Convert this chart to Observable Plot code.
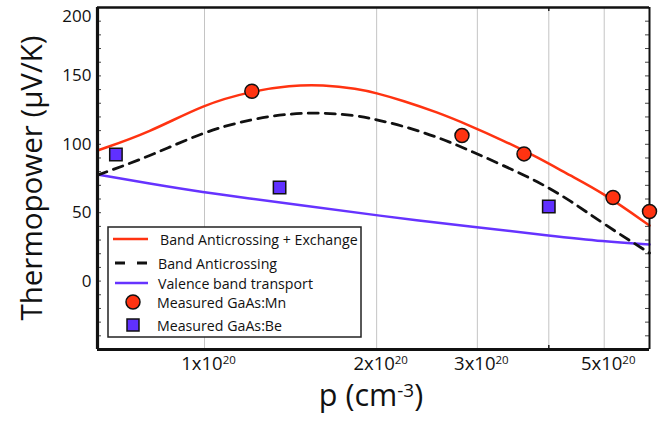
<!DOCTYPE html>
<html><head><meta charset="utf-8">
<script src="https://cdn.jsdelivr.net/npm/d3@7"></script>
<script src="https://cdn.jsdelivr.net/npm/@observablehq/plot@0.6"></script>
<style>body{margin:0;background:#fff;} #chart{width:668px;height:424px;}</style>
</head><body><div id="chart"></div>
<script>
// ---- data (p in units of 1e20 cm^-3, thermopower in µV/K) ----
const bacExP = [0.65, 0.80, 1.0, 1.21, 1.41, 1.61, 1.85, 2.0, 2.22, 2.55, 2.91, 3.33, 3.82, 4.36, 5.0, 6.0];
const bacExS = [95.5, 108.5, 129.5, 138.8, 143, 143.5, 140.6, 137.4, 132, 123.5, 113.7, 102.8, 90.6, 77.2, 64, 40.6];
const bacP = [0.65, 0.80, 1.0, 1.21, 1.41, 1.61, 1.85, 2.0, 2.22, 2.55, 2.91, 3.33, 3.82, 4.36, 5.0, 6.0];
const bacS = [77.5, 91, 109.5, 118.5, 122.5, 123.2, 121, 118, 113.5, 105.5, 95.5, 84.5, 73, 59, 41.5, 20.5];
const vbP = [0.65, 0.80, 1.0, 1.2, 1.44, 2.0, 3.0, 4.0, 5.0, 6.0];
const vbS = [78, 71.3, 64.8, 60.4, 56, 48, 39.2, 33.3, 28.9, 26.8];
const mnP = [1.21, 2.82, 3.62, 5.18, 6.0];
const mnS = [138.8, 106.4, 93, 61.1, 50.9];
const beP = [0.70, 1.353, 4.0];
const beS = [92.5, 68.4, 54.5];
const xTicks = [1, 2, 3, 5];
const xGrid = [1, 2, 3, 4, 5];
const yTicks = [0, 50, 100, 150, 200];
const yMinor = d3.range(-40, 200, 10);
const seriesNames = ["Band Anticrossing + Exchange", "Band Anticrossing", "Valence band transport", "Measured GaAs:Mn", "Measured GaAs:Be"];

const zip = (xs, ys) => xs.map((x, i) => ({p: x, s: ys[i]}));
const bacEx = zip(bacExP, bacExS), bac = zip(bacP, bacS), vb = zip(vbP, vbS);
const mn = zip(mnP, mnS), be = zip(beP, beS);

const FONT = "'Open Sans', sans-serif";
const W = 668, H = 424, mL = 97, mR = 19, mT = 7, mB = 75;
const pw = W - mL - mR, ph = H - mT - mB;
const RED = "#ff3311", BLUE = "#6633ff", SQ = "#6030ff";
const xDom = [0.65, 6.0], yDom = [-50, 200];

const plot = Plot.plot({
  width: W, height: H, marginLeft: mL, marginRight: mR, marginTop: mT, marginBottom: mB,
  style: {fontFamily: FONT, background: "#fff", color: "#111", overflow: "visible"},
  x: {type: "log", domain: xDom},
  y: {domain: yDom},
  marks: [
    Plot.ruleX(xGrid, {stroke: "#c4c4c4", strokeWidth: 1}),
    Plot.tickY(yMinor, {y: d => d, stroke: "#444", strokeWidth: 1, insetRight: pw - 4}),
    Plot.tickY(yMinor, {y: d => d, stroke: "#444", strokeWidth: 1, insetLeft: pw - 4}),
    Plot.tickX([4], {x: d => d, stroke: "#222", strokeWidth: 1.5, insetTop: ph - 4}),
    Plot.tickX([4], {x: d => d, stroke: "#222", strokeWidth: 1.5, insetBottom: ph - 4}),
    Plot.line(vb, {x: "p", y: "s", stroke: BLUE, strokeWidth: 2.5, curve: "basis"}),
    Plot.line(bac, {x: "p", y: "s", stroke: "#111", strokeWidth: 2.8, strokeDasharray: "10,7", curve: "basis"}),
    Plot.line(bacEx, {x: "p", y: "s", stroke: RED, strokeWidth: 2.5, curve: "basis"}),
    Plot.ruleX([xDom[0]], {stroke: "#111", strokeWidth: 3.2}),
    Plot.ruleX([xDom[1]], {stroke: "#111", strokeWidth: 2}),
    Plot.ruleY([yDom[0]], {stroke: "#111", strokeWidth: 3.2}),
    Plot.ruleY([yDom[1]], {stroke: "#111", strokeWidth: 2.6}),
    Plot.dot(mn, {x: "p", y: "s", r: 7, fill: RED, stroke: "#111", strokeWidth: 1.5}),
    Plot.dot(be, {x: "p", y: "s", r: 7, symbol: "square", fill: SQ, stroke: "#111", strokeWidth: 1.5}),
    Plot.axisX({ticks: xTicks, tickFormat: d => `${d}x10`, tickSize: 0, tickPadding: 7, fontSize: 18.5, label: null}),
    Plot.axisY({ticks: yTicks, tickSize: 0, tickPadding: 6, fontSize: 17, label: null})
  ]
});

document.getElementById("chart").appendChild(plot);
const svg = d3.select(plot);

// superscripts on x tick labels
svg.selectAll('[aria-label="x-axis tick label"] text').each(function() {
  const t = d3.select(this);
  t.attr("dx", 4);
  t.append("tspan").attr("dy", "-0.45em").attr("font-size", "0.62em").text("20");
});
// top y label sits slightly lower, as in the reference
svg.selectAll('[aria-label="y-axis tick label"] text').each(function() {
  if (this.textContent.trim() === "200") d3.select(this).attr("dy", "0.55em");
});

// axis titles
svg.append("text")
  .attr("transform", "translate(30,178) rotate(-90)")
  .attr("text-anchor", "middle").attr("dominant-baseline", "central")
  .style("font-family", FONT).style("font-size", "29.5px").attr("fill", "#111")
  .text("Thermopower (μV/K)");
const xl = svg.append("text")
  .attr("x", 371).attr("y", 406).attr("text-anchor", "middle")
  .style("font-family", FONT).style("font-size", "30.5px").attr("fill", "#111");
xl.append("tspan").text("p (cm");
xl.append("tspan").attr("dy", "-0.5em").attr("font-size", "0.62em").text("-3");
xl.append("tspan").attr("dy", "0.31em").text(")");

// legend (inside the plot area, lower left)
const lg = svg.append("g").style("font-family", FONT).style("font-size", "14.2px").attr("text-anchor", "start");
lg.append("rect").attr("x", 108).attr("y", 227).attr("width", 253).attr("height", 110)
  .attr("fill", "#fff").attr("stroke", "#222").attr("stroke-width", 1.5);
const rows = [239, 263, 283, 302, 325];
const textX = [160, 158, 158, 157, 157];
lg.append("line").attr("x1", 113).attr("x2", 148).attr("y1", rows[0]).attr("y2", rows[0]).attr("stroke", RED).attr("stroke-width", 2.5);
lg.append("line").attr("x1", 115).attr("x2", 148).attr("y1", rows[1]).attr("y2", rows[1]).attr("stroke", "#111").attr("stroke-width", 2.8).attr("stroke-dasharray", "10,12");
lg.append("line").attr("x1", 115).attr("x2", 148).attr("y1", rows[2]).attr("y2", rows[2]).attr("stroke", BLUE).attr("stroke-width", 2.5);
lg.append("circle").attr("cx", 133).attr("cy", rows[3]).attr("r", 7).attr("fill", RED).attr("stroke", "#111").attr("stroke-width", 1.5);
lg.append("rect").attr("x", 127).attr("y", rows[4] - 6).attr("width", 12).attr("height", 12).attr("fill", SQ).attr("stroke", "#111").attr("stroke-width", 1.5);
seriesNames.forEach((n, i) => {
  lg.append("text").attr("x", textX[i]).attr("y", rows[i]).attr("dominant-baseline", "central").attr("fill", "#111").text(n);
});
</script>
</body></html>
